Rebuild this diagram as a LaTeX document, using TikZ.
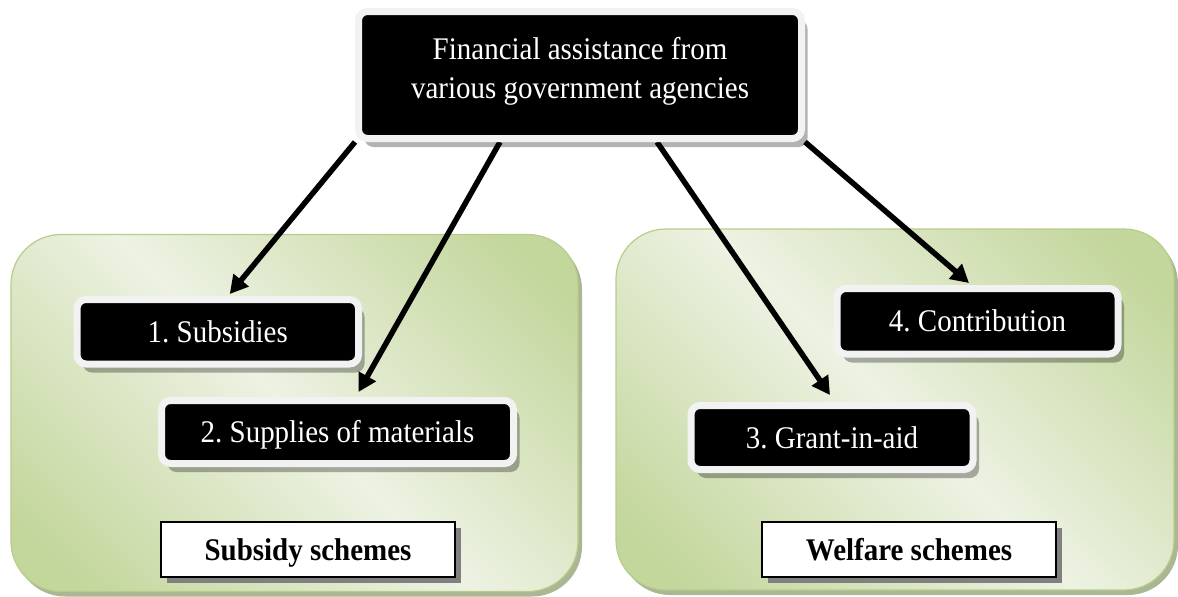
\documentclass[tikz,border=0pt]{standalone}
\usepackage{fontspec}
\setmainfont{Liberation Serif}[FakeStretch=0.92]
\usetikzlibrary{arrows.meta,shadows}

\definecolor{panelDark}{HTML}{C3D69B}
\definecolor{panelLight}{HTML}{EDF2E3}
\definecolor{panelEdge}{HTML}{B7CD8C}
\definecolor{panelShadow}{HTML}{A9B793}
\definecolor{rimGray}{HTML}{F2F2F2}

% light band across the middle, olive green towards two opposite corners
\pgfdeclarehorizontalshading{panelfade}{100bp}{%
  color(0bp)=(panelDark); color(20bp)=(panelDark);
  color(50bp)=(panelLight);
  color(80bp)=(panelDark); color(100bp)=(panelDark)}

\pgfdeclarelayer{back}
\pgfdeclarelayer{mid}
\pgfsetlayers{back,mid,main}

\tikzset{
  panel/.style={draw=panelEdge, line width=1.2pt, rounded corners=50pt,
    shading=panelfade, shading angle=45, inner sep=0pt,
    drop shadow={shadow xshift=4pt, shadow yshift=-5pt, fill=panelShadow, opacity=1}},
  blackbox/.style={fill=black, draw=rimGray, line width=7pt, rounded corners=9pt,
    text=white, font=\fontsize{31.5}{39}\selectfont\frenchspacing, inner sep=0pt,
    drop shadow={shadow xshift=6pt, shadow yshift=-8.5pt, fill=black, opacity=0.3}},
  itembox/.style={blackbox, text height=21pt, text depth=0pt},
  labelbox/.style={fill=white, draw=black, line width=1.5pt,
    font=\bfseries\fontsize{31.5}{35}\selectfont,
    minimum width=294pt, minimum height=55pt, inner sep=0pt,
    text height=21pt, text depth=0pt,
    drop shadow={shadow xshift=6pt, shadow yshift=-6pt, fill=black!50, opacity=1}},
  link/.style={line width=5.5pt, -{Triangle[length=18pt,width=19pt]}}
}

\begin{document}
\begin{tikzpicture}[x=1pt,y=-1pt]
\useasboundingbox (0,0) rectangle (1178,597);

% scheme panels
\begin{pgfonlayer}{back}
  \node[panel, minimum width=567pt, minimum height=357pt] (subsidyPanel) at (294.5,413) {};
  \node[panel, minimum width=558pt, minimum height=361pt] (welfarePanel) at (895,409.5) {};
\end{pgfonlayer}

% source of assistance
\node[blackbox, minimum width=443pt, minimum height=127pt, align=center] (top) at (580,75)
  {Financial assistance from\\various government agencies\rule[-14pt]{0pt}{14pt}};

% forms of assistance
\node[itembox, minimum width=281.5pt, minimum height=64.5pt] (sub) at (217.75,331.75) {1. Subsidies};
\node[itembox, minimum width=352pt, minimum height=63pt] (sup) at (337.5,432) {2. Supplies of materials};
\node[itembox, minimum width=282pt, minimum height=64pt] (grant) at (832,437.5) {3. Grant-in-aid};
\node[itembox, minimum width=281pt, minimum height=65.5pt] (con) at (977.5,321.25) {4. Contribution};

% scheme labels
\node[labelbox] (subsidyLabel) at (308,549.5) {Subsidy schemes};
\node[labelbox] (welfareLabel) at (909,549.5) {Welfare schemes};

% connectors
\begin{pgfonlayer}{mid}
  \draw[link] (top.south west) -- ([xshift=12pt,yshift=2pt]sub.north);
  \draw[link] ([xshift=-80pt]top.south) -- ([xshift=21pt,yshift=5pt]sup.north);
  \draw[link] ([xshift=77pt]top.south) -- ([xshift=-2pt,yshift=7pt]grant.north);
  \draw[link] (top.south east) -- ([xshift=-8.5pt,yshift=2pt]con.north);
\end{pgfonlayer}
\end{tikzpicture}
\end{document}
